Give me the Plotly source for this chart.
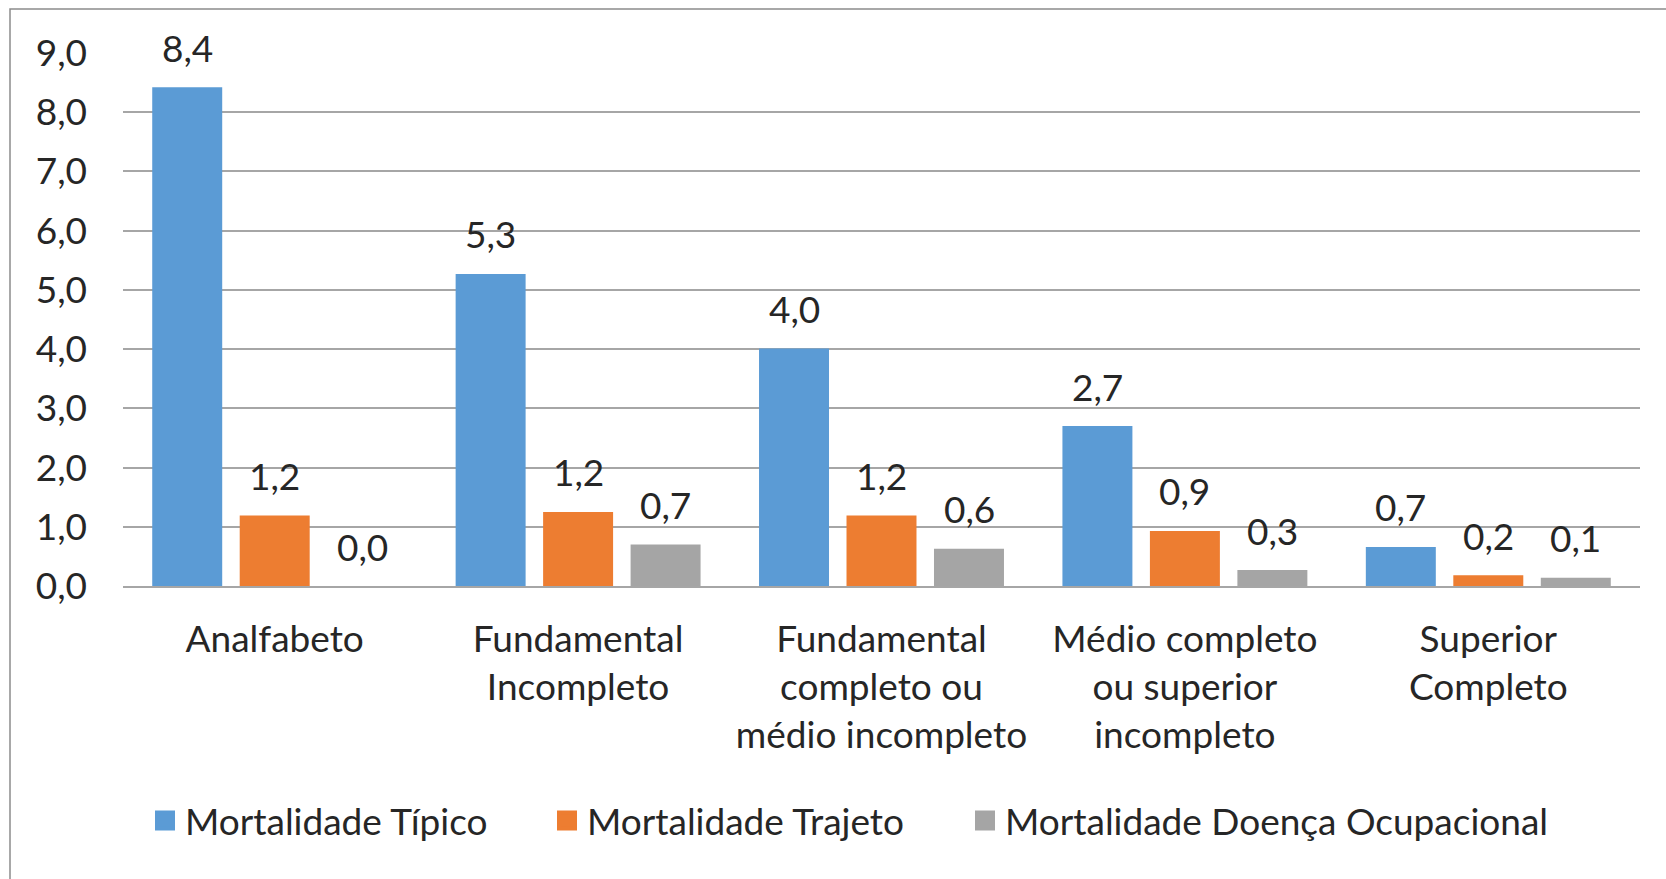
import plotly.graph_objects as go

categories = [
    "Analfabeto",
    "Fundamental<br>Incompleto",
    "Fundamental<br>completo ou<br>médio incompleto",
    "Médio completo<br>ou superior<br>incompleto",
    "Superior<br>Completo",
]
series_names = ["Mortalidade Típico", "Mortalidade Trajeto", "Mortalidade Doença Ocupacional"]
tipico = [8.42, 5.27, 4.01, 2.70, 0.66]
trajeto = [1.19, 1.25, 1.19, 0.93, 0.18]
doenca = [0.0, 0.70, 0.63, 0.27, 0.14]
colors = ["#5B9BD5", "#ED7D31", "#A5A5A5"]
y_ticks = [0, 1, 2, 3, 4, 5, 6, 7, 8, 9]

FONT = "Lato, Carlito, Calibri, sans-serif"
FS = 37
TEXT = "#262626"
GRID = "#a6a6a6"

W, H = 1666, 879
L, R, T, B = 123, 26, 53, 293
pw = W - L - R
ph = H - T - B

fig = go.Figure()
for name, vals, color in zip(series_names, [tipico, trajeto, doenca], colors):
    fig.add_trace(
        go.Bar(
            x=categories,
            y=vals,
            name=name,
            marker_color=color,
            marker_line_width=0,
            showlegend=False,
        )
    )

# one small legend per series so the spacing can follow the original
legend_ids = ["legend", "legend2", "legend3"]
legend_px = [145, 547, 965]  # left edge of each legend entry, px
for name, color, lid in zip(series_names, colors, legend_ids):
    fig.add_trace(
        go.Scatter(
            x=[None],
            y=[None],
            mode="markers",
            name=name,
            legend=lid,
            marker=dict(symbol="square", size=16, color=color,
                        line=dict(color=color, width=4)),
        )
    )

legends = {}
for lid, px in zip(legend_ids, legend_px):
    legends[lid] = dict(
        orientation="h",
        x=(px - L) / pw,
        xanchor="left",
        y=(H - B - 821) / ph,
        yanchor="middle",
        font=dict(family=FONT, size=FS, color=TEXT),
        itemwidth=30,
        bgcolor="rgba(0,0,0,0)",
    )

# data labels above bars
shifts = [-87.5, 0, 87.5]
annotations = []
for vals, dx in zip([tipico, trajeto, doenca], shifts):
    for cat, v in zip(categories, vals):
        annotations.append(
            dict(
                x=cat,
                y=v,
                text=f"{v:.1f}".replace(".", ","),
                showarrow=False,
                xshift=dx,
                yshift=40,
                yanchor="middle",
                font=dict(family=FONT, size=FS, color=TEXT),
            )
        )

fig.update_layout(
    width=W,
    height=H,
    margin=dict(l=L, r=R, t=T, b=B, pad=0),
    paper_bgcolor="white",
    plot_bgcolor="white",
    font=dict(family=FONT, size=FS, color=TEXT),
    separators=",.",
    barmode="group",
    bargap=0.135,
    bargroupgap=0.2,
    annotations=annotations,
    shapes=[
        dict(
            type="rect",
            xref="paper",
            yref="paper",
            x0=(10 - L) / pw,
            x1=1.2,
            y0=-1.0,
            y1=(H - B - 9) / ph,
            line=dict(color="#8c8c8c", width=1.5),
            layer="below",
        )
    ],
    **legends,
)
fig.update_xaxes(
    automargin=False,
    showgrid=False,
    showline=True,
    linecolor=GRID,
    linewidth=1.5,
    ticks="",
    ticklabelstandoff=20,
    tickfont=dict(family=FONT, size=FS, color=TEXT),
)
fig.update_yaxes(
    automargin=False,
    range=[0, 9],
    tickvals=y_ticks,
    tickformat=".1f",
    showgrid=True,
    gridcolor=GRID,
    gridwidth=1.5,
    zeroline=False,
    showline=False,
    ticks="",
    ticklabelstandoff=35,
    tickfont=dict(family=FONT, size=FS, color=TEXT),
)
fig.write_html(
    "out.html",
    config={"displayModeBar": False},
    post_script="document.body.style.margin='0';window.dispatchEvent(new Event('resize'));",
)
